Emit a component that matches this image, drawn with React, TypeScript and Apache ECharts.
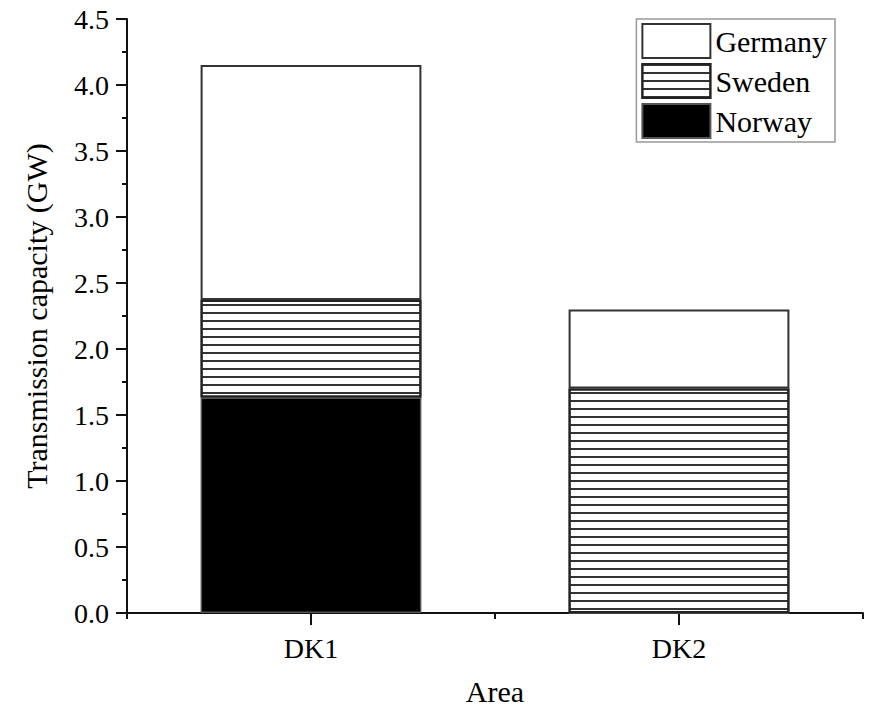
import React, { useEffect, useRef } from "react";
import * as echarts from "echarts";

const categories = ["DK1", "DK2"];
const norway = [1.632, 0];
const sweden = [0.74, 1.7];
const germany = [1.78, 0.6];
const legendOrder = ["Germany", "Sweden", "Norway"];

const FONT = "Liberation Serif";

export default function App() {
  const ref = useRef<HTMLDivElement>(null);
  useEffect(() => {
    document.body.style.margin = "0";
    if (!ref.current) return;
    const chart = echarts.init(ref.current, null, { renderer: "svg" });
    const axisColor = "#111";
    chart.setOption({
      animation: false,
      backgroundColor: "#fff",
      textStyle: { fontFamily: FONT },
      grid: { left: 127, right: 23, top: 19, bottom: 101, containLabel: false },
      legend: {
        data: legendOrder,
        orient: "vertical",
        right: 51,
        top: 19,
        itemWidth: 68,
        itemHeight: 34,
        itemGap: 4,
        padding: [4, 8, 3, 5],
        borderColor: "#999",
        borderWidth: 1.5,
        icon: "rect",
        selectedMode: false,
        textStyle: { fontSize: 30, fontFamily: FONT, color: "#000" },
      },
      xAxis: [
        {
          type: "category",
          data: categories,
          position: "bottom",
          name: "Area",
          nameLocation: "middle",
          nameGap: 63,
          nameTextStyle: { fontSize: 30, fontFamily: FONT, color: "#000" },
          axisLine: { show: true, lineStyle: { color: axisColor, width: 2 } },
          axisTick: { show: true, alignWithLabel: true, length: 12, lineStyle: { color: axisColor, width: 2 } },
          axisLabel: { fontSize: 28, fontFamily: FONT, color: "#000", margin: 21 },
          splitLine: { show: false },
        },
        {
          type: "category",
          data: categories,
          position: "bottom",
          axisLine: { show: false },
          axisTick: { show: true, length: 6, lineStyle: { color: axisColor, width: 2 } },
          axisLabel: { show: false },
          splitLine: { show: false },
        },
      ],
      yAxis: {
        type: "value",
        min: 0,
        max: 4.5,
        interval: 0.5,
        name: "Transmission capacity (GW)",
        nameLocation: "middle",
        nameGap: 76,
        nameTextStyle: { fontSize: 30, fontFamily: FONT, color: "#000" },
        axisLine: { show: true, lineStyle: { color: axisColor, width: 2 } },
        axisTick: { show: true, length: 11, lineStyle: { color: axisColor, width: 2 } },
        minorTick: { show: true, splitNumber: 2, length: 5, lineStyle: { color: axisColor, width: 2 } },
        splitLine: { show: false },
        minorSplitLine: { show: false },
        axisLabel: {
          fontSize: 28,
          fontFamily: FONT,
          color: "#000",
          margin: 18,
          formatter: (v: number) => v.toFixed(1),
        },
      },
      series: [
        {
          name: "Norway",
          type: "bar",
          stack: "total",
          barWidth: "60%",
          xAxisIndex: 0,
          data: norway,
          itemStyle: { color: "#000", borderColor: "#555", borderWidth: 1.5 },
        },
        {
          name: "Sweden",
          type: "bar",
          stack: "total",
          barWidth: "60%",
          xAxisIndex: 0,
          data: sweden,
          itemStyle: {
            color: "#fff",
            borderColor: "#222",
            borderWidth: 2,
            decal: {
              symbol: "rect",
              symbolSize: 1,
              color: "#333",
              dashArrayX: [[8, 0]],
              dashArrayY: [2, 6],
              rotation: 0,
            },
          },
        },
        {
          name: "Germany",
          type: "bar",
          stack: "total",
          barWidth: "60%",
          xAxisIndex: 0,
          data: germany,
          itemStyle: { color: "#fff", borderColor: "#333", borderWidth: 2 },
        },
      ],
    });
    return () => chart.dispose();
  }, []);
  return <div ref={ref} style={{ width: 886, height: 714 }} />;
}
